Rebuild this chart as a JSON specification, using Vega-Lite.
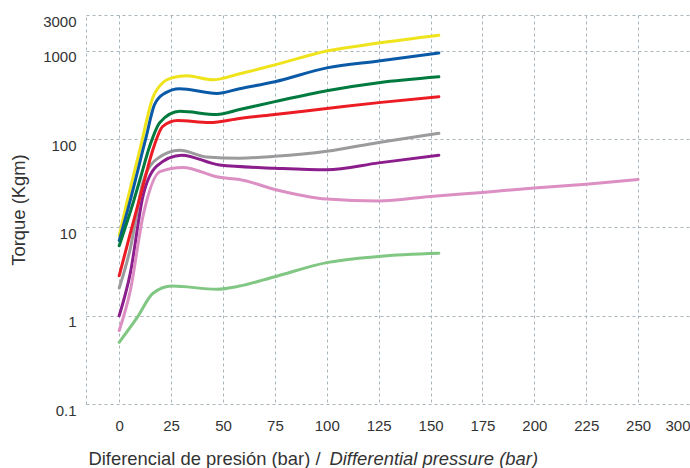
{
  "$schema": "https://vega.github.io/schema/vega-lite/v6.json",
  "width": 604,
  "height": 389,
  "autosize": {"type": "none"},
  "padding": {"left": 86, "top": 15, "right": 0, "bottom": 64},
  "background": "white",
  "config": {
    "view": {"stroke": null},
    "font": "Liberation Sans",
    "axis": {
      "labelFont": "Liberation Sans",
      "titleFont": "Liberation Sans",
      "labelColor": "#333333",
      "titleColor": "#333333",
      "labelFontSize": 15,
      "titleFontSize": 18.4,
      "titleFontWeight": "normal",
      "gridColor": "#a9b5bd",
      "gridDash": [3, 3],
      "gridWidth": 1,
      "ticks": false,
      "tickSize": 0
    }
  },
  "data": {
    "values": [
      {"s": "amarillo", "p": 0, "t": 8.1},
      {"s": "amarillo", "p": 2.9, "t": 16},
      {"s": "amarillo", "p": 10, "t": 77},
      {"s": "amarillo", "p": 16.3, "t": 300},
      {"s": "amarillo", "p": 21, "t": 437},
      {"s": "amarillo", "p": 26, "t": 500},
      {"s": "amarillo", "p": 32.5, "t": 523},
      {"s": "amarillo", "p": 45, "t": 472},
      {"s": "amarillo", "p": 58, "t": 552},
      {"s": "amarillo", "p": 75, "t": 696},
      {"s": "amarillo", "p": 100, "t": 1000},
      {"s": "amarillo", "p": 125, "t": 1230},
      {"s": "amarillo", "p": 154, "t": 1510},

      {"s": "azul", "p": 0, "t": 7.1},
      {"s": "azul", "p": 4.3, "t": 16.5},
      {"s": "azul", "p": 12.9, "t": 104},
      {"s": "azul", "p": 17, "t": 247},
      {"s": "azul", "p": 22, "t": 333},
      {"s": "azul", "p": 29, "t": 374},
      {"s": "azul", "p": 47, "t": 330},
      {"s": "azul", "p": 58, "t": 374},
      {"s": "azul", "p": 75, "t": 449},
      {"s": "azul", "p": 100, "t": 644},
      {"s": "azul", "p": 125, "t": 772},
      {"s": "azul", "p": 154, "t": 950},

      {"s": "verde", "p": 0, "t": 6.2},
      {"s": "verde", "p": 6.7, "t": 19},
      {"s": "verde", "p": 10, "t": 35},
      {"s": "verde", "p": 14.8, "t": 85},
      {"s": "verde", "p": 19.6, "t": 155},
      {"s": "verde", "p": 29.2, "t": 207},
      {"s": "verde", "p": 47, "t": 191},
      {"s": "verde", "p": 58, "t": 217},
      {"s": "verde", "p": 75, "t": 267},
      {"s": "verde", "p": 100, "t": 355},
      {"s": "verde", "p": 125, "t": 437},
      {"s": "verde", "p": 154, "t": 510},

      {"s": "rojo", "p": 0, "t": 2.84},
      {"s": "rojo", "p": 5.3, "t": 8.5},
      {"s": "rojo", "p": 11.5, "t": 30},
      {"s": "rojo", "p": 16.3, "t": 77},
      {"s": "rojo", "p": 21, "t": 140},
      {"s": "rojo", "p": 28, "t": 163},
      {"s": "rojo", "p": 43.5, "t": 155},
      {"s": "rojo", "p": 58, "t": 172},
      {"s": "rojo", "p": 75, "t": 191},
      {"s": "rojo", "p": 100, "t": 223},
      {"s": "rojo", "p": 125, "t": 260},
      {"s": "rojo", "p": 154, "t": 304},

      {"s": "gris", "p": 0, "t": 2.06},
      {"s": "gris", "p": 5.3, "t": 5.7},
      {"s": "gris", "p": 11.5, "t": 33},
      {"s": "gris", "p": 18.2, "t": 60},
      {"s": "gris", "p": 29.2, "t": 75},
      {"s": "gris", "p": 42, "t": 63},
      {"s": "gris", "p": 58, "t": 61},
      {"s": "gris", "p": 75, "t": 64},
      {"s": "gris", "p": 100, "t": 73},
      {"s": "gris", "p": 125, "t": 92},
      {"s": "gris", "p": 154, "t": 117},

      {"s": "morado", "p": 0, "t": 1.0},
      {"s": "morado", "p": 5.3, "t": 3.0},
      {"s": "morado", "p": 11.5, "t": 23},
      {"s": "morado", "p": 18.2, "t": 50},
      {"s": "morado", "p": 30.1, "t": 66},
      {"s": "morado", "p": 48.3, "t": 51},
      {"s": "morado", "p": 75, "t": 47},
      {"s": "morado", "p": 100, "t": 45},
      {"s": "morado", "p": 125, "t": 54},
      {"s": "morado", "p": 154, "t": 66},

      {"s": "rosa", "p": 0, "t": 0.68},
      {"s": "rosa", "p": 5.3, "t": 1.9},
      {"s": "rosa", "p": 11.5, "t": 13.6},
      {"s": "rosa", "p": 19.6, "t": 43},
      {"s": "rosa", "p": 30.6, "t": 48},
      {"s": "rosa", "p": 48.3, "t": 37},
      {"s": "rosa", "p": 58, "t": 35},
      {"s": "rosa", "p": 75, "t": 27},
      {"s": "rosa", "p": 100, "t": 21},
      {"s": "rosa", "p": 125, "t": 20},
      {"s": "rosa", "p": 150, "t": 22.5},
      {"s": "rosa", "p": 175, "t": 25},
      {"s": "rosa", "p": 200, "t": 28},
      {"s": "rosa", "p": 225, "t": 31},
      {"s": "rosa", "p": 250, "t": 35},

      {"s": "verde claro", "p": 0, "t": 0.5},
      {"s": "verde claro", "p": 8.6, "t": 0.95},
      {"s": "verde claro", "p": 16.3, "t": 1.8},
      {"s": "verde claro", "p": 25.4, "t": 2.17},
      {"s": "verde claro", "p": 47, "t": 2.0},
      {"s": "verde claro", "p": 58, "t": 2.17},
      {"s": "verde claro", "p": 75, "t": 2.77},
      {"s": "verde claro", "p": 100, "t": 4.0},
      {"s": "verde claro", "p": 125, "t": 4.7},
      {"s": "verde claro", "p": 154, "t": 5.1}
    ]
  },
  "encoding": {
    "y": {
      "field": "t",
      "type": "quantitative",
      "scale": {"type": "log", "domain": [0.1, 2558], "nice": false},
      "axis": {
        "values": [0.1, 1, 10, 100, 1000, 2558],
        "labelExpr": "datum.value > 2000 ? '3000' : format(datum.value, '~g')",
        "labelOverlap": false,
        "labelPadding": 10,
        "labelOffset": 6,
        "domain": true,
        "domainColor": "#a9b5bd",
        "domainDash": [3, 3],
        "domainWidth": 1,
        "title": "Torque (Kgm)",
        "titlePadding": 14
      }
    },
    "color": {
      "field": "s",
      "type": "nominal",
      "legend": null,
      "scale": {
        "domain": ["amarillo", "azul", "verde", "rojo", "gris", "morado", "rosa", "verde claro"],
        "range": ["#efe31c", "#0a5aa8", "#007a3e", "#ec1c24", "#9b9b9d", "#8b1e8c", "#dc8fc2", "#80c783"]
      }
    }
  },
  "layer": [
    {
      "transform": [{"filter": "indexof(['gris','morado','rosa','verde claro'], datum.s) >= 0"}],
      "mark": {"type": "line", "interpolate": "monotone", "strokeWidth": 3, "strokeCap": "round", "clip": true},
      "encoding": {
        "x": {
          "field": "p",
          "type": "quantitative",
          "scale": {"domain": [-16, 275], "nice": false, "zero": false},
          "axis": {
            "orient": "bottom",
            "values": [0, 25, 50, 75, 100, 125, 150, 175, 200, 225, 250, 275],
            "labelExpr": "datum.value == 275 ? '300' : datum.label",
            "labelFlush": true,
            "labelFlushOffset": 0,
            "labelPadding": 14,
            "labelOverlap": false,
            "domain": false,
            "title": "Diferencial de presión (bar) /",
            "titleAnchor": "start",
            "titleAlign": "left",
            "titleBaseline": "alphabetic",
            "titleX": 2,
            "titleY": 60
          }
        }
      }
    },
    {
      "transform": [{"filter": "indexof(['amarillo','azul','verde','rojo'], datum.s) >= 0"}],
      "mark": {"type": "line", "interpolate": "monotone", "strokeWidth": 3, "strokeCap": "round", "clip": true},
      "encoding": {
        "x": {
          "field": "p",
          "type": "quantitative",
          "axis": {
            "orient": "bottom",
            "labels": false,
            "grid": false,
            "domain": false,
            "ticks": false,
            "title": "Differential pressure (bar)",
            "titleFontStyle": "italic",
            "titleAnchor": "start",
            "titleAlign": "left",
            "titleBaseline": "alphabetic",
            "titleX": 243,
            "titleY": 60
          }
        }
      }
    }
  ],
  "resolve": {"axis": {"x": "independent"}}
}
